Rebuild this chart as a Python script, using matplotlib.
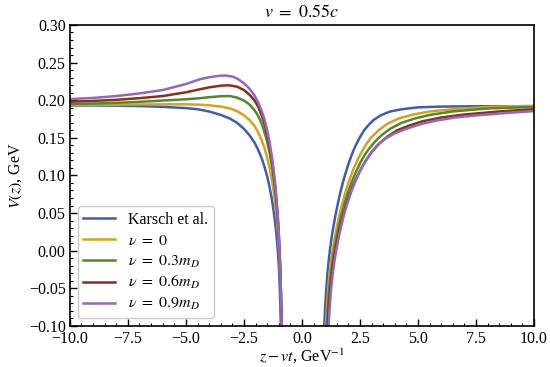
import matplotlib
matplotlib.use("Agg")
import matplotlib.pyplot as plt
from matplotlib.ticker import MultipleLocator, FuncFormatter

# potential curves, left and right of the singularity
# x in GeV^-1, V in GeV
karsch_xl = [-10, -9, -8, -7, -6, -5, -4.5, -4, -3.5, -3.1, -2.8, -2.5, -2.25, -2.05,
             -1.9, -1.75, -1.62, -1.5, -1.4, -1.3, -1.22, -1.15, -1.09, -1.04, -1.0,
             -0.96, -0.93, -0.91, -0.895]
karsch_vl = [0.193, 0.193, 0.1928, 0.1922, 0.1912, 0.1895, 0.188, 0.185, 0.1805, 0.1755,
             0.170, 0.162, 0.153, 0.144, 0.135, 0.124, 0.112, 0.099, 0.085, 0.069,
             0.053, 0.036, 0.018, 0.000, -0.018, -0.045, -0.075, -0.10, -0.12]
karsch_xr = [0.93, 0.96, 1.0, 1.05, 1.1, 1.15, 1.21, 1.28, 1.35, 1.45, 1.55, 1.65, 1.75,
             1.85, 2.0, 2.15, 2.3, 2.5, 2.7, 2.9, 3.1, 3.4, 3.8, 4.3, 5, 6, 7.5, 10]
karsch_vr = [-0.12, -0.10, -0.075, -0.050, -0.030, -0.014, 0.002, 0.018, 0.031, 0.048,
             0.063, 0.077, 0.089, 0.100, 0.115, 0.128, 0.139, 0.151, 0.161, 0.168,
             0.174, 0.180, 0.185, 0.188, 0.1905, 0.1915, 0.192, 0.192]

nu0_xl = [-10, -8, -6, -5, -4.4, -4, -3.5, -3.1, -2.8, -2.5, -2.25, -2.05, -1.9, -1.75,
          -1.62, -1.5, -1.4, -1.3, -1.22, -1.15, -1.09, -1.04, -1.0, -0.96, -0.93,
          -0.90, -0.88, -0.87, -0.865]
nu0_vl = [0.1935, 0.194, 0.1945, 0.1945, 0.194, 0.1932, 0.1915, 0.189, 0.1855, 0.180,
          0.1735, 0.166, 0.158, 0.148, 0.137, 0.124, 0.111, 0.095, 0.079, 0.062, 0.044,
          0.026, 0.008, -0.017, -0.042, -0.07, -0.095, -0.11, -0.12]
nu0_xr = [1.0, 1.03, 1.08, 1.14, 1.2, 1.27, 1.35, 1.43, 1.52, 1.63, 1.75, 1.88, 2.02,
          2.2, 2.4, 2.6, 2.8, 3.0, 3.3, 3.7, 4.2, 4.8, 5.5, 6.5, 8, 10]
nu0_vr = [-0.12, -0.10, -0.072, -0.047, -0.028, -0.010, 0.006, 0.020, 0.034, 0.050,
          0.064, 0.078, 0.092, 0.107, 0.121, 0.133, 0.143, 0.151, 0.160, 0.169, 0.176,
          0.181, 0.185, 0.188, 0.191, 0.1925]

nu3_xl = [-10, -9, -8, -7, -6, -5, -4.4, -4, -3.5, -3.1, -2.8, -2.5, -2.25, -2.05, -1.9,
          -1.75, -1.62, -1.5, -1.4, -1.3, -1.22, -1.15, -1.09, -1.04, -1.0, -0.96,
          -0.93, -0.90, -0.88, -0.87, -0.865]
nu3_vl = [0.195, 0.1955, 0.1965, 0.1978, 0.1995, 0.2012, 0.2026, 0.204, 0.2053, 0.2055,
          0.2035, 0.1995, 0.194, 0.187, 0.180, 0.170, 0.158, 0.145, 0.131, 0.114, 0.097,
          0.079, 0.059, 0.040, 0.020, -0.005, -0.031, -0.062, -0.09, -0.105, -0.12]
nu3_xr = [1.04, 1.07, 1.12, 1.18, 1.25, 1.32, 1.4, 1.49, 1.59, 1.7, 1.83, 1.97, 2.13,
          2.3, 2.5, 2.7, 2.9, 3.15, 3.45, 3.8, 4.3, 4.9, 5.6, 6.5, 8, 10]
nu3_vr = [-0.12, -0.10, -0.073, -0.049, -0.029, -0.013, 0.003, 0.018, 0.033, 0.047,
          0.062, 0.076, 0.090, 0.103, 0.116, 0.127, 0.136, 0.145, 0.154, 0.162, 0.170,
          0.176, 0.181, 0.185, 0.189, 0.191]

nu6_xl = [-10, -9, -8, -7, -6, -5, -4.4, -4, -3.5, -3.15, -2.8, -2.5, -2.25, -2.05, -1.9,
          -1.75, -1.62, -1.5, -1.4, -1.3, -1.22, -1.15, -1.09, -1.04, -1.0, -0.96,
          -0.93, -0.90, -0.88, -0.87, -0.865]
nu6_vl = [0.198, 0.199, 0.2005, 0.2027, 0.2055, 0.2105, 0.2145, 0.217, 0.2193, 0.2198,
          0.218, 0.2135, 0.207, 0.200, 0.192, 0.181, 0.169, 0.155, 0.140, 0.121, 0.103,
          0.084, 0.063, 0.043, 0.022, -0.004, -0.03, -0.062, -0.09, -0.105, -0.12]
nu6_xr = [1.08, 1.11, 1.16, 1.22, 1.29, 1.37, 1.45, 1.55, 1.65, 1.77, 1.9, 2.05, 2.22,
          2.4, 2.6, 2.8, 3.05, 3.35, 3.7, 4.1, 4.6, 5.2, 6.0, 7.0, 8.5, 10]
nu6_vr = [-0.12, -0.10, -0.073, -0.050, -0.030, -0.012, 0.002, 0.018, 0.032, 0.046,
          0.060, 0.074, 0.088, 0.100, 0.112, 0.122, 0.133, 0.143, 0.152, 0.160, 0.166,
          0.172, 0.177, 0.181, 0.185, 0.188]

nu9_xl = [-10, -9, -8, -7, -6, -5, -4.4, -4, -3.6, -3.3, -3.0, -2.75, -2.5, -2.25, -2.05,
          -1.9, -1.75, -1.62, -1.5, -1.4, -1.3, -1.22, -1.15, -1.09, -1.04, -1.0, -0.96,
          -0.93, -0.90, -0.88, -0.87, -0.865]
nu9_vl = [0.2015, 0.203, 0.2055, 0.209, 0.2135, 0.2215, 0.2278, 0.2305, 0.2323, 0.2328,
          0.2315, 0.228, 0.2225, 0.215, 0.2065, 0.198, 0.187, 0.175, 0.160, 0.145,
          0.126, 0.107, 0.087, 0.066, 0.045, 0.024, -0.003, -0.029, -0.061, -0.09,
          -0.105, -0.12]
nu9_xr = [1.12, 1.15, 1.2, 1.26, 1.33, 1.41, 1.5, 1.6, 1.71, 1.83, 1.97, 2.12, 2.3, 2.5,
          2.7, 2.95, 3.25, 3.6, 4.0, 4.5, 5.1, 5.8, 6.6, 7.6, 8.8, 10]
nu9_vr = [-0.12, -0.10, -0.073, -0.050, -0.030, -0.012, 0.004, 0.020, 0.035, 0.050,
          0.064, 0.078, 0.092, 0.106, 0.117, 0.129, 0.140, 0.149, 0.156, 0.162, 0.168,
          0.173, 0.177, 0.180, 0.183, 0.1855]

labels = ["Karsch et al.", r"$\nu\ =\ 0$", r"$\nu\ =\ 0.3m_D$", r"$\nu\ =\ 0.6m_D$",
          r"$\nu\ =\ 0.9m_D$"]
colors = ["#3d5eb0", "#d6a21a", "#4f8a2c", "#8c2f1a", "#9068c4"]

series = [
    (karsch_xl, karsch_vl, karsch_xr, karsch_vr),
    (nu0_xl, nu0_vl, nu0_xr, nu0_vr),
    (nu3_xl, nu3_vl, nu3_xr, nu3_vr),
    (nu6_xl, nu6_vl, nu6_xr, nu6_vr),
    (nu9_xl, nu9_vl, nu9_xr, nu9_vr),
]

plt.rcParams["font.family"] = "Liberation Serif"
plt.rcParams["mathtext.fontset"] = "stix"
plt.rcParams["font.size"] = 11.5


def fmt(decimals):
    # real minus sign like the reference
    return FuncFormatter(lambda v, p: f"{v:.{decimals}f}".replace("-", "\u2212"))


fig, ax = plt.subplots(figsize=(5.5, 3.67), dpi=100)
fig.subplots_adjust(left=0.127, right=0.971, top=0.932, bottom=0.112)

for (xl, vl, xr, vr), lab, c in zip(series, labels, colors):
    ax.plot(xl, vl, color=c, lw=1.8, label=lab)
    ax.plot(xr, vr, color=c, lw=1.8)

ax.set_xlim(-10, 10)
ax.set_ylim(-0.10, 0.30)
ax.xaxis.set_major_locator(MultipleLocator(2.5))
ax.xaxis.set_minor_locator(MultipleLocator(0.5))
ax.yaxis.set_major_locator(MultipleLocator(0.05))
ax.yaxis.set_minor_locator(MultipleLocator(0.01))
ax.yaxis.set_major_formatter(fmt(2))
ax.xaxis.set_major_formatter(fmt(1))
ax.tick_params(which="both", direction="in", top=False, right=False)
ax.tick_params(which="major", length=5, width=1)
ax.tick_params(axis="x", which="major", pad=3.5)
ax.tick_params(axis="y", which="major", pad=3)
ax.tick_params(which="minor", length=2.5, width=0.8)
for s in ax.spines.values():
    s.set_linewidth(1.2)

ax.set_title(r"$v\ =\ 0.55c$", fontsize=13)
ax.set_xlabel(r"$z - vt$, GeV$^{-1}$", labelpad=0)
ax.set_ylabel(r"$V(z)$, GeV", labelpad=3)

ax.legend(loc="lower left", fontsize=11.5, handlelength=2.0, borderpad=0.35,
          labelspacing=0.3, framealpha=1, edgecolor="#cccccc")

fig.savefig("out.png", dpi=100)
